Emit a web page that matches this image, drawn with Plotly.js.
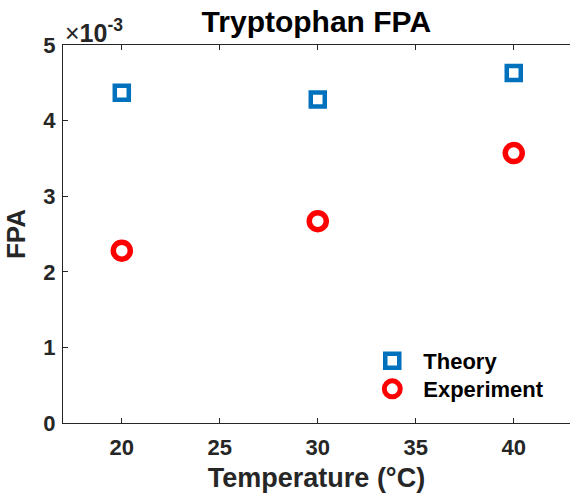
<!DOCTYPE html>
<html><head><meta charset="utf-8">
<script src="https://cdn.plot.ly/plotly-3.0.1.min.js"></script>
<style>html,body{margin:0;padding:0;background:#fff}</style>
</head><body>
<div id="chart" style="width:570px;height:499px"></div>
<script>
// FPA values in units of 1e-3
const temperatures = [20, 30, 40];
const theoryFPA = [4.37, 4.28, 4.63];
const experimentFPA = [2.28, 2.67, 3.57];
const xTicks = [20, 25, 30, 35, 40];
const yTicks = [0, 1, 2, 3, 4, 5];
const seriesNames = ['Theory', 'Experiment'];

const FONT = '"Liberation Sans", Arial, Helvetica, sans-serif';
const INK = '#262626';
const SP = '\u2002';

const traces = [
  {x: temperatures, y: theoryFPA, name: SP + '<b>' + seriesNames[0] + '</b>', type: 'scatter', mode: 'markers',
   legend: 'legend', showlegend: true,
   marker: {symbol: 'square-open', size: 14, color: '#0072BD', line: {width: 4.5, color: '#0072BD'}}},
  {x: temperatures, y: experimentFPA, name: SP + '<b>' + seriesNames[1] + '</b>', type: 'scatter', mode: 'markers',
   legend: 'legend2', showlegend: true,
   marker: {symbol: 'circle-open', size: 17, color: '#FF0000', line: {width: 5.5, color: '#FF0000'}}}
];

const legendBase = {x: 0.61, xanchor: 'left', yanchor: 'top', bgcolor: 'rgba(0,0,0,0)',
                    font: {size: 22, color: '#000'}, itemsizing: 'trace', visible: true};

const layout = {
  width: 570, height: 499,
  showlegend: true,
  margin: {l: 63, r: 0, t: 45, b: 76},
  paper_bgcolor: '#fff', plot_bgcolor: '#fff',
  font: {family: FONT, color: INK},
  title: {text: '<b>Tryptophan FPA</b>', font: {size: 30, color: '#000'}, x: 0.555, xref: 'container', xanchor: 'center',
          y: 0.956, yref: 'container', yanchor: 'middle'},
  xaxis: {
    range: [17, 42.87], tickvals: xTicks, ticktext: xTicks.map(v => '<b>' + v + '</b>'),
    ticks: 'inside', ticklen: 5, tickcolor: INK, tickwidth: 1,
    showline: true, linecolor: INK, linewidth: 1, mirror: 'ticks',
    showgrid: false, zeroline: false, ticklabelstandoff: 5,
    tickfont: {size: 22, color: INK},
    title: {text: '<b>Temperature (°C)</b>', font: {size: 27, color: INK}, standoff: 8}
  },
  yaxis: {
    range: [0, 5], tickvals: yTicks, ticktext: yTicks.map(v => '<b>' + v + '</b>'),
    ticks: 'inside', ticklen: 5, tickcolor: INK, tickwidth: 1,
    showline: true, linecolor: INK, linewidth: 1,
    showgrid: false, zeroline: false, ticklabelstandoff: 2,
    tickfont: {size: 22, color: INK},
    title: {text: '<b>FPA</b>', font: {size: 26, color: INK}, standoff: 10}
  },
  legend: Object.assign({}, legendBase, {y: 0.2196}),
  legend2: Object.assign({}, legendBase, {y: 0.1455}),
  annotations: [
    {text: '×<b>10<sup>-3</sup></b>', xref: 'paper', yref: 'paper', x: 0, y: 1, xanchor: 'left', yanchor: 'bottom',
     showarrow: false, font: {size: 25, color: INK}, xshift: 0, yshift: -4}
  ]
};

Plotly.newPlot('chart', traces, layout, {displayModeBar: false, staticPlot: true});
</script>
</body></html>
